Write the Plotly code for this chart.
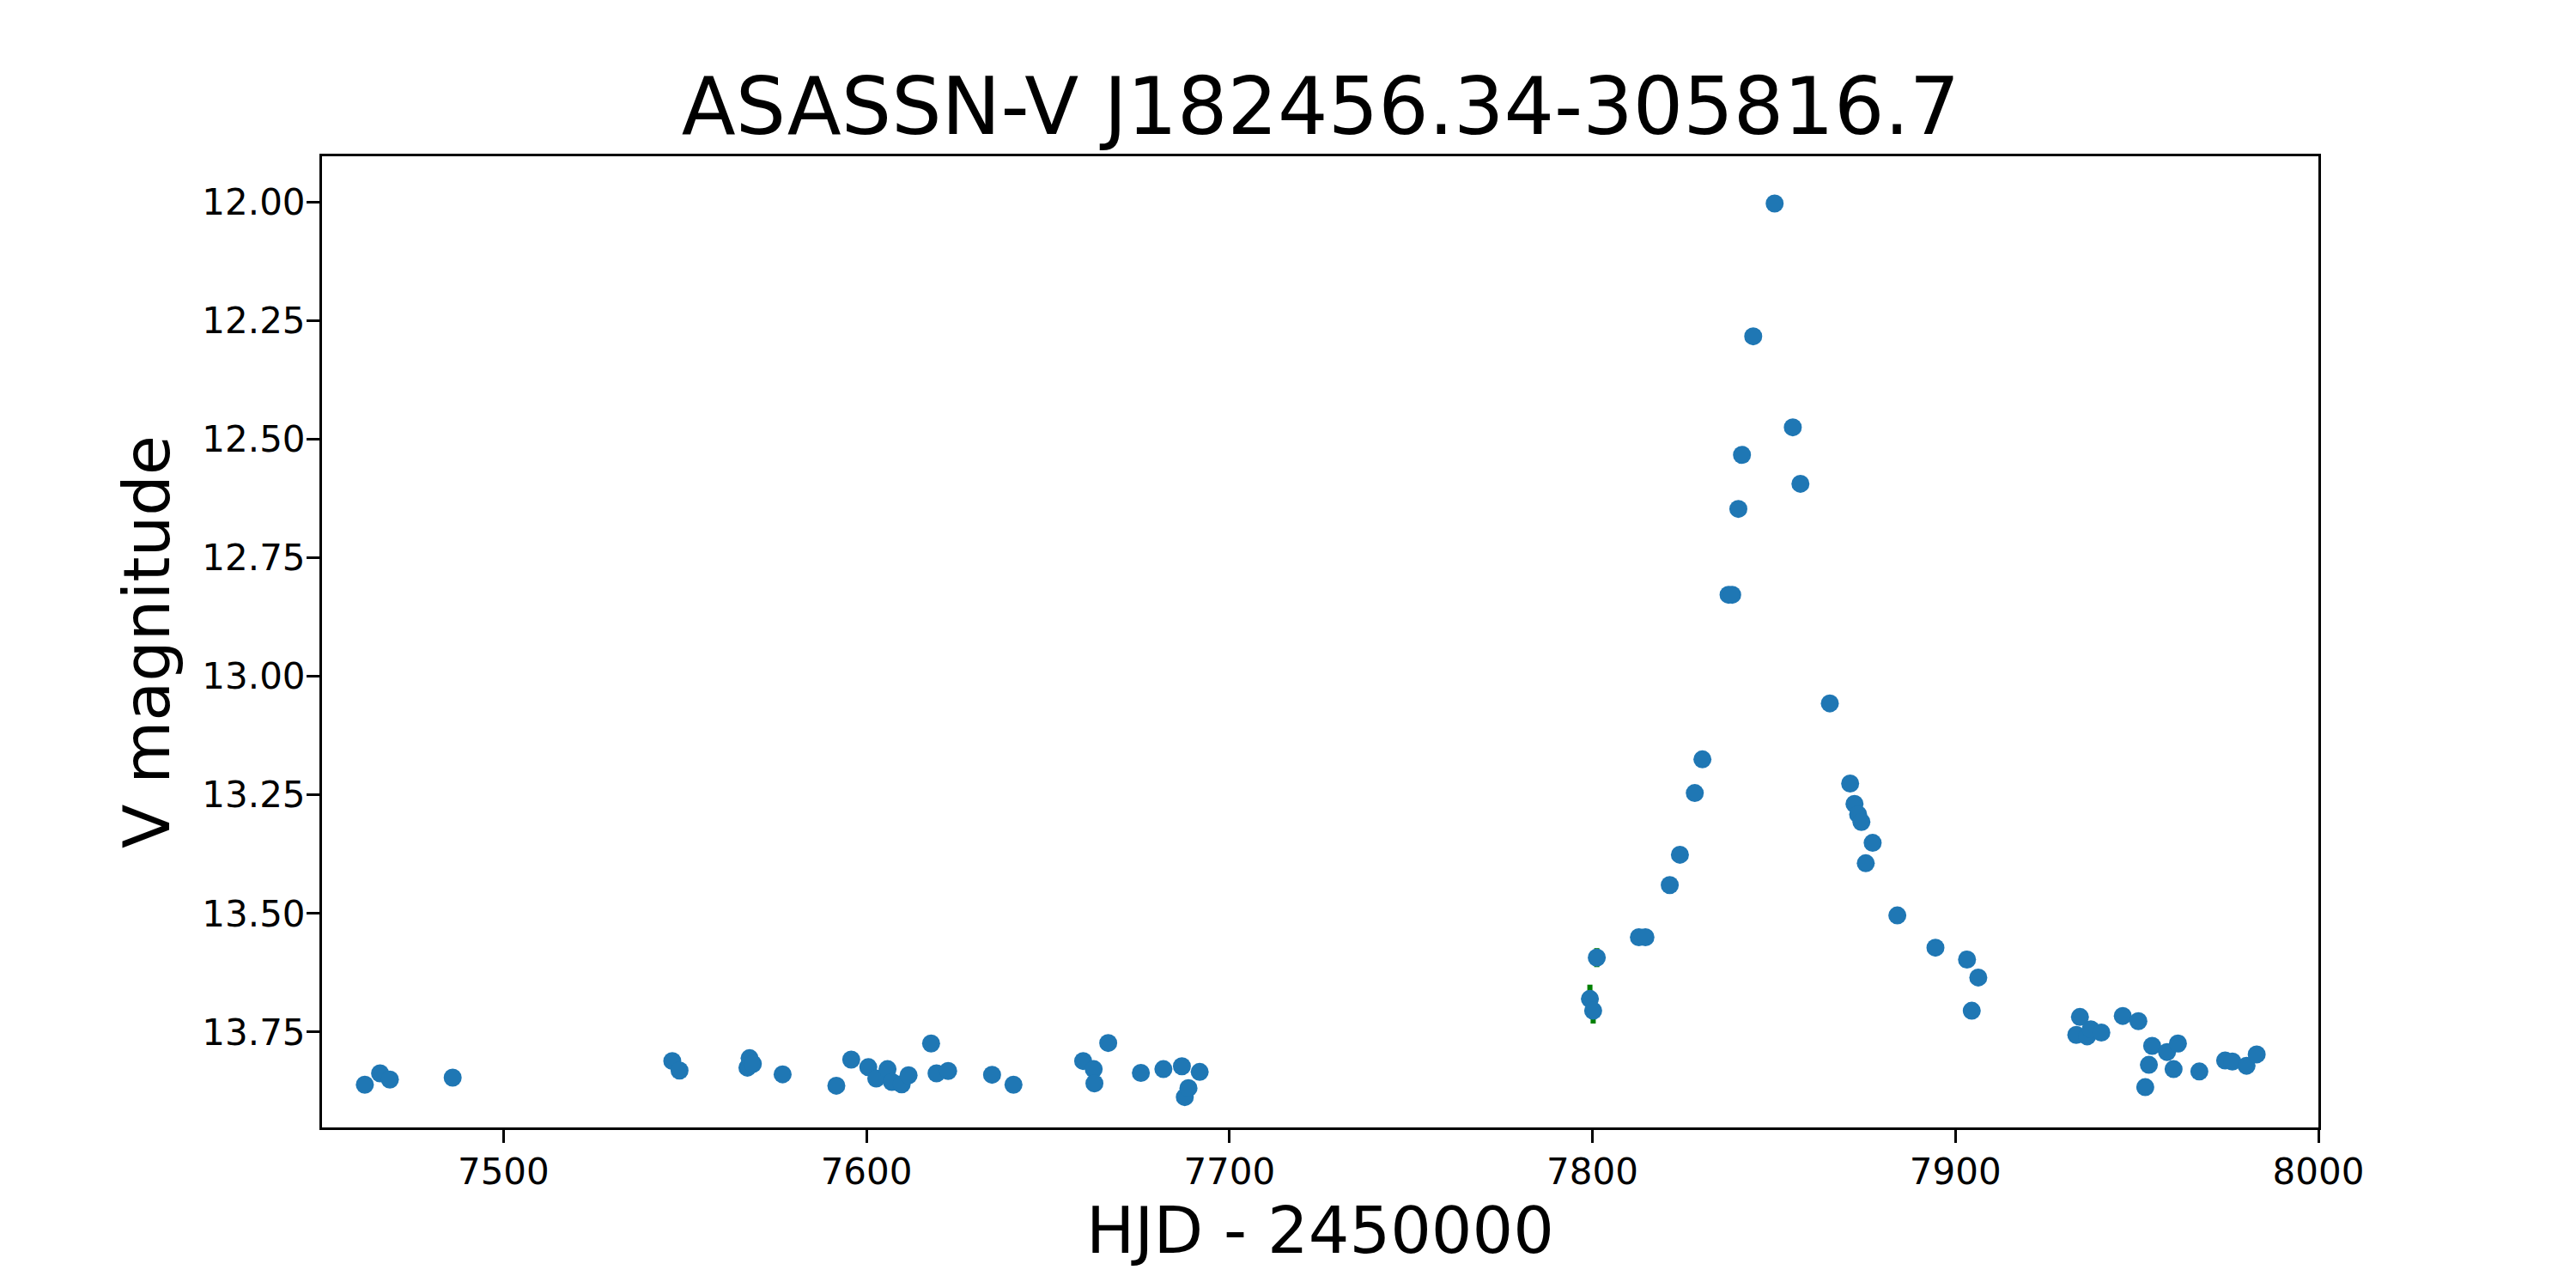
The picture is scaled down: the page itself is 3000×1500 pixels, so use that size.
import plotly.graph_objects as go

title_text = "ASASSN-V J182456.34-305816.7"
x_label = "HJD - 2450000"
y_label = "V magnitude"

hjd = [7461.8, 7466.0, 7468.7, 7486.0, 7546.5, 7548.5, 7567.2, 7567.8, 7568.7, 7576.9,
       7591.7, 7595.8, 7600.5, 7602.7, 7605.8, 7607.0, 7609.7, 7611.6, 7617.8, 7619.3,
       7622.5, 7634.6, 7640.5, 7659.7, 7662.6, 7662.8, 7666.6, 7675.6, 7681.8, 7686.9,
       7687.7, 7688.7, 7691.8, 7799.3, 7800.2, 7801.2, 7812.8, 7814.6, 7821.3, 7824.1,
       7828.2, 7830.3, 7837.5, 7838.5, 7840.2, 7841.2, 7844.3, 7850.2, 7855.2, 7857.3,
       7865.4, 7871.0, 7872.2, 7873.2, 7874.1, 7875.3, 7877.2, 7884.0, 7894.5, 7903.2,
       7904.5, 7906.3, 7933.3, 7934.3, 7936.3, 7937.3, 7940.2, 7946.1, 7950.4, 7952.3,
       7953.3, 7954.2, 7958.3, 7960.1, 7961.3, 7967.2, 7974.3, 7976.3, 7980.2, 7983.0]

vmag = [13.861, 13.837, 13.850, 13.846, 13.811, 13.831, 13.825, 13.805, 13.817, 13.839,
        13.863, 13.808, 13.824, 13.848, 13.828, 13.855, 13.860, 13.841, 13.774, 13.837,
        13.832, 13.840, 13.861, 13.811, 13.828, 13.858, 13.773, 13.836, 13.828, 13.822,
        13.887, 13.868, 13.834, 13.680, 13.705, 13.593, 13.550, 13.550, 13.440, 13.376,
        13.246, 13.175, 12.828, 12.828, 12.647, 12.533, 12.283, 12.003, 12.475, 12.594,
        13.057, 13.226, 13.269, 13.291, 13.307, 13.394, 13.351, 13.504, 13.572, 13.597,
        13.705, 13.635, 13.756, 13.718, 13.759, 13.744, 13.751, 13.716, 13.727, 13.866,
        13.819, 13.779, 13.792, 13.828, 13.774, 13.833, 13.810, 13.812, 13.821, 13.797]

vmag_err = [0.010, 0.010, 0.010, 0.010, 0.010, 0.010, 0.010, 0.010, 0.010, 0.010,
            0.010, 0.010, 0.010, 0.010, 0.010, 0.010, 0.010, 0.010, 0.010, 0.010,
            0.010, 0.010, 0.010, 0.010, 0.010, 0.010, 0.010, 0.010, 0.010, 0.010,
            0.010, 0.010, 0.010, 0.030, 0.027, 0.020, 0.010, 0.010, 0.010, 0.010,
            0.010, 0.010, 0.008, 0.008, 0.008, 0.008, 0.008, 0.008, 0.008, 0.008,
            0.010, 0.010, 0.010, 0.010, 0.010, 0.010, 0.010, 0.010, 0.010, 0.010,
            0.010, 0.010, 0.010, 0.010, 0.010, 0.010, 0.010, 0.010, 0.010, 0.010,
            0.010, 0.010, 0.010, 0.010, 0.010, 0.010, 0.010, 0.010, 0.010, 0.010]

x_ticks = [7500, 7600, 7700, 7800, 7900, 8000]
y_ticks = [12.00, 12.25, 12.50, 12.75, 13.00, 13.25, 13.50, 13.75]

FONT = "DejaVu Sans"

fig = go.Figure()
# error bars (drawn beneath markers)
fig.add_trace(go.Scatter(
    x=hjd, y=vmag, mode="markers",
    marker=dict(size=1, color="rgba(0,0,0,0)"),
    error_y=dict(type="data", array=vmag_err, visible=True, color="#008000",
                 thickness=6, width=0),
    showlegend=False, hoverinfo="skip"))
fig.add_trace(go.Scatter(
    x=hjd, y=vmag, mode="markers",
    marker=dict(size=21, color="#1f77b4", line=dict(width=0)),
    showlegend=False))

axis_common = dict(
    showline=True, linecolor="black", linewidth=3, mirror=True,
    ticks="outside", ticklen=15, tickwidth=3, tickcolor="black",
    showgrid=False, zeroline=False,
    tickfont=dict(family=FONT, size=42, color="black"),
)

fig.update_layout(
    width=3000, height=1500,
    paper_bgcolor="white", plot_bgcolor="white",
    margin=dict(l=367, r=308, t=174, b=195, autoexpand=False),
    title=dict(text=title_text, x=0.5100, xanchor="center",
               y=1 - 148 / 1500, yanchor="bottom", yref="container",
               font=dict(family=FONT, size=92, color="black")),
    xaxis=dict(range=[7450, 8000], tickvals=x_ticks,
               ticktext=[str(v) for v in x_ticks],
               ticklabelstandoff=-2,
               title=dict(text=x_label, standoff=11,
                          font=dict(family=FONT, size=75, color="black")),
               **axis_common),
    yaxis=dict(range=[13.951, 11.9035], tickvals=y_ticks,
               ticktext=[f"{v:.2f}" for v in y_ticks],
               ticklabelstandoff=-7,
               title=dict(text=y_label, standoff=14,
                          font=dict(family=FONT, size=75, color="black")),
               **axis_common),
)

fig.write_html("out.html")
